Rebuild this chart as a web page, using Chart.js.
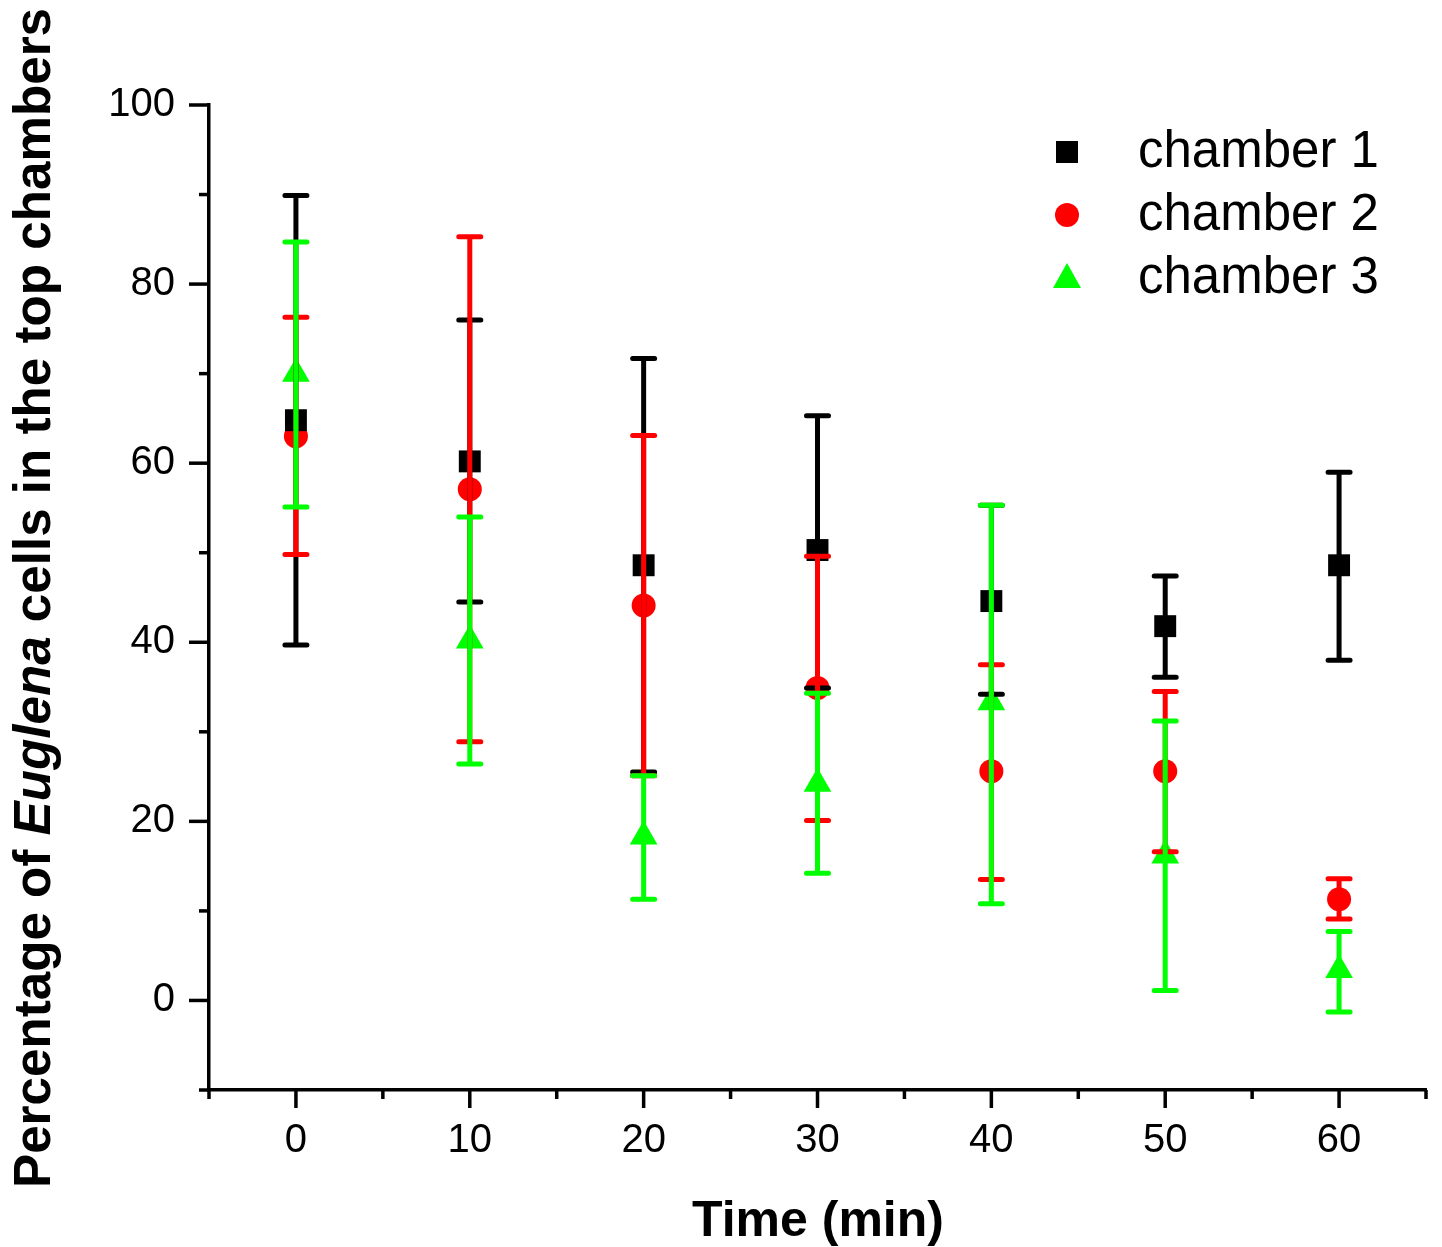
<!DOCTYPE html>
<html><head><meta charset="utf-8">
<script src="https://cdn.jsdelivr.net/npm/chart.js@4.4.1/dist/chart.umd.min.js"></script>
<style>html,body{margin:0;padding:0;background:#fff;overflow:hidden}#wrap{width:1442px;height:1247px}</style>
</head><body><div id="wrap"><canvas id="c" width="1442" height="1247"></canvas></div>
<script>
// ---- data ----
const times = [0, 10, 20, 30, 40, 50, 60];
const seriesLabels = ['chamber 1', 'chamber 2', 'chamber 3'];
const chamber1 = [64.8, 60.2, 48.6, 50.3, 44.6, 41.8, 48.6];
const chamber1Upper = [89.9, 76.0, 71.7, 65.3, 55.3, 47.4, 59.0];
const chamber1Lower = [39.7, 44.5, 25.5, 34.9, 34.2, 36.1, 38.0];
const chamber2 = [63.0, 57.1, 44.1, 34.9, 25.6, 25.6, 11.3];
const chamber2Upper = [76.3, 85.3, 63.1, 49.6, 37.5, 34.5, 13.6];
const chamber2Lower = [49.8, 28.9, 25.1, 20.1, 13.5, 16.6, 9.1];
const chamber3 = [70.0, 40.2, 18.3, 24.2, 33.3, 16.2, 3.4];
const chamber3Upper = [84.7, 54.0, 25.1, 34.3, 55.3, 31.2, 7.7];
const chamber3Lower = [55.1, 26.4, 11.3, 14.2, 10.8, 1.1, -1.3];
const xTickLabels = [0, 10, 20, 30, 40, 50, 60];
const xMinorTicks = [-5, 5, 15, 25, 35, 45, 55, 65];
const yTickLabels = [0, 20, 40, 60, 80, 100];
const yMinorTicks = [-10, 10, 30, 50, 70, 90];
const xTitle = 'Time (min)';
const yTitleParts = [['Percentage of ', false], ['Euglena', true], [' cells in the top chambers', false]];

const colors = ['#000000', '#ff0000', '#00ff00'];
const styles = ['rect', 'circle', 'triangle'];
const radii = [15.5, 12, 16];
const means = [chamber1, chamber2, chamber3];
const uppers = [chamber1Upper, chamber2Upper, chamber3Upper];
const lowers = [chamber1Lower, chamber2Lower, chamber3Lower];

const datasets = means.map((m, i) => ({
  label: seriesLabels[i],
  data: times.map((t, j) => ({ x: t, y: m[j] })),
  pointStyle: styles[i],
  pointRadius: radii[i],
  pointHoverRadius: radii[i],
  pointBackgroundColor: colors[i],
  pointBorderColor: colors[i],
  pointBorderWidth: 0,
  showLine: false,
  errUpper: uppers[i],
  errLower: lowers[i]
}));

const FONT = "'Liberation Sans', Arial, sans-serif";

const customPlugin = {
  id: 'custom',
  afterDatasetsDraw(chart) {
    const ctx = chart.ctx;
    const xs = chart.scales.x, ys = chart.scales.y;
    ctx.save();
    ctx.lineCap = 'round';
    ctx.lineWidth = 5;
    chart.data.datasets.forEach((ds, i) => {
      ctx.strokeStyle = colors[i];
      times.forEach((t, j) => {
        const px = xs.getPixelForValue(t);
        const pu = ys.getPixelForValue(ds.errUpper[j]);
        const pl = ys.getPixelForValue(ds.errLower[j]);
        ctx.beginPath();
        ctx.moveTo(px, pu); ctx.lineTo(px, pl);
        ctx.moveTo(px - 11, pu); ctx.lineTo(px + 11, pu);
        ctx.moveTo(px - 11, pl); ctx.lineTo(px + 11, pl);
        ctx.stroke();
      });
    });
    ctx.restore();
  },
  afterDraw(chart) {
    const ctx = chart.ctx;
    const xs = chart.scales.x, ys = chart.scales.y;
    const area = chart.chartArea;
    ctx.save();
    // tick marks
    ctx.strokeStyle = '#000';
    ctx.lineWidth = 3.5;
    ctx.lineCap = 'butt';
    const xt = (v, len) => { const p = xs.getPixelForValue(v); ctx.beginPath(); ctx.moveTo(p, area.bottom); ctx.lineTo(p, area.bottom + len); ctx.stroke(); };
    const yt = (v, len) => { const p = ys.getPixelForValue(v); ctx.beginPath(); ctx.moveTo(area.left, p); ctx.lineTo(area.left - len, p); ctx.stroke(); };
    xTickLabels.forEach(v => xt(v, 18));
    xMinorTicks.forEach(v => xt(v, 9));
    yTickLabels.forEach(v => yt(v, 20));
    yMinorTicks.forEach(v => yt(v, 10));

    // legend
    const lx = 1067, ly0 = 152, dy = 63;
    chart.data.datasets.forEach((ds, i) => {
      const y = ly0 + i * dy;
      ctx.fillStyle = colors[i];
      ctx.beginPath();
      if (i === 0) { ctx.rect(lx - 11, y - 11, 22, 22); }
      else if (i === 1) { ctx.arc(lx, y, 12, 0, Math.PI * 2); }
      else { ctx.moveTo(lx, y - 15); ctx.lineTo(lx + 14, y + 10); ctx.lineTo(lx - 14, y + 10); ctx.closePath(); }
      ctx.fill();
      ctx.fillStyle = '#000';
      ctx.font = '51px ' + FONT;
      ctx.textAlign = 'left';
      ctx.textBaseline = 'middle';
      ctx.fillText(ds.label, 1138, y + 1);
    });

    // x title
    ctx.fillStyle = '#000';
    ctx.font = 'bold 50px ' + FONT;
    ctx.textAlign = 'center';
    ctx.textBaseline = 'alphabetic';
    ctx.fillText(xTitle, 818, 1236);

    // y title
    const size = 52;
    const fonts = yTitleParts.map(p => (p[1] ? 'italic ' : '') + 'bold ' + size + 'px ' + FONT);
    let total = 0;
    const widths = yTitleParts.map((p, k) => { ctx.font = fonts[k]; const w = ctx.measureText(p[0]).width; total += w; return w; });
    const target = 1180;
    ctx.translate(50, 598);
    ctx.rotate(-Math.PI / 2);
    ctx.scale(target / total, 1);
    ctx.textAlign = 'left';
    let cx = -total / 2;
    yTitleParts.forEach((p, k) => { ctx.font = fonts[k]; ctx.fillText(p[0], cx, 0); cx += widths[k]; });
    ctx.restore();
  }
};

new Chart(document.getElementById('c'), {
  type: 'scatter',
  data: { datasets },
  options: {
    responsive: false,
    animation: false,
    devicePixelRatio: 1,
    layout: { padding: { top: 105, right: 12, left: 0, bottom: 0 } },
    plugins: { legend: { display: false }, tooltip: { enabled: false }, title: { display: false } },
    scales: {
      x: {
        type: 'linear', min: -5, max: 65,
        afterBuildTicks: s => { s.ticks = xTickLabels.map(v => ({ value: v })); },
        afterFit: s => { s.height = 157; s.paddingLeft = 0; s.paddingRight = 0; },
        grid: { display: false, drawTicks: false },
        border: { display: true, color: '#000', width: 3.5 },
        ticks: { color: '#000', font: { family: FONT, size: 40 }, padding: 27, maxRotation: 0, autoSkip: false }
      },
      y: {
        type: 'linear', min: -10, max: 100,
        afterBuildTicks: s => { s.ticks = yTickLabels.map(v => ({ value: v })); },
        afterFit: s => { s.width = 209; s.paddingTop = 0; s.paddingBottom = 0; },
        grid: { display: false, drawTicks: false },
        border: { display: true, color: '#000', width: 3.5 },
        ticks: { color: '#000', font: { family: FONT, size: 40 }, padding: 34, autoSkip: false }
      }
    }
  },
  plugins: [customPlugin]
});
</script></body></html>
